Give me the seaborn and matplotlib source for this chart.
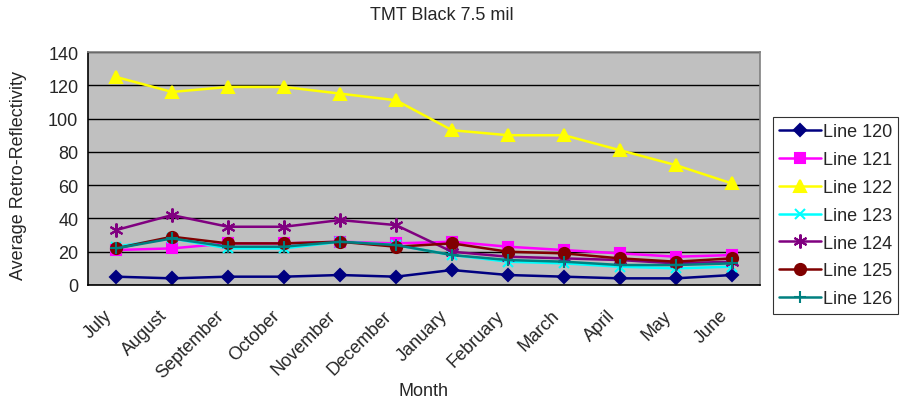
import matplotlib
matplotlib.use("Agg")
import matplotlib.pyplot as plt
from matplotlib.ticker import FixedLocator
import matplotlib.transforms as mtransforms
import pandas as pd
import seaborn as sns

months = ["July", "August", "September", "October", "November", "December",
          "January", "February", "March", "April", "May", "June"]

line_120 = [5, 4, 5, 5, 6, 5, 9, 6, 5, 4, 4, 6]
line_121 = [21, 22, 25, 25, 26, 25, 26, 23, 21, 19, 17, 18]
line_122 = [125, 116, 119, 119, 115, 111, 93, 90, 90, 81, 72, 61]
line_123 = [23, 28, 22, 22, 26, 24, 18, 14, 13, 11, 10, 11]
line_124 = [33, 42, 35, 35, 39, 36, 20, 17, 16, 15, 13, 14]
line_125 = [22, 29, 25, 25, 26, 23, 25, 20, 19, 16, 14, 16]
line_126 = [22, 28, 23, 23, 26, 24, 18, 15, 14, 12, 12, 13]

series = {
    "Line 120": line_120,
    "Line 121": line_121,
    "Line 122": line_122,
    "Line 123": line_123,
    "Line 124": line_124,
    "Line 125": line_125,
    "Line 126": line_126,
}

colors = {
    "Line 120": "#000080",
    "Line 121": "#FF00FF",
    "Line 122": "#FFFF00",
    "Line 123": "#00FFFF",
    "Line 124": "#800080",
    "Line 125": "#800000",
    "Line 126": "#008080",
}
markers = {
    "Line 120": "D",
    "Line 121": "s",
    "Line 122": "^",
    "Line 123": "x",
    "Line 124": (6, 2, 0),
    "Line 125": "o",
    "Line 126": "+",
}
msizes = {
    "Line 120": 6.5, "Line 121": 7.5, "Line 122": 8.5, "Line 123": 7.5,
    "Line 124": 10, "Line 125": 8, "Line 126": 9,
}

rows = []
for name, vals in series.items():
    for i, (m, v) in enumerate(zip(months, vals)):
        rows.append({"series": name, "pos": i, "month": m, "value": v})
df = pd.DataFrame(rows)

sns.set_style("white")
plt.rcParams["font.family"] = ["Liberation Sans", "DejaVu Sans"]
FS = 13

fig = plt.figure(figsize=(9, 4.02), dpi=100)
ax = fig.add_axes([88 / 900, 1 - 286 / 402, (760 - 88) / 900, (286 - 53) / 402])
ax.set_facecolor("#C0C0C0")

for name in series:
    sub = df[df["series"] == name]
    sns.lineplot(data=sub, x="pos", y="value", ax=ax, color=colors[name],
                 marker=markers[name], markersize=msizes[name],
                 markeredgecolor=colors[name], markerfacecolor=colors[name],
                 markeredgewidth=1.5, linewidth=1.8, label=name, legend=False)

ax.set_xlim(-0.5, len(months) - 0.5)
ax.set_ylim(0, 140)
ax.set_yticks(range(0, 141, 20))
ax.yaxis.grid(True, color="black", linewidth=1.0)
ax.set_axisbelow(True)

ax.set_xticks(range(len(months)))
ax.xaxis.set_minor_locator(FixedLocator([i - 0.5 for i in range(len(months) + 1)]))
ax.tick_params(axis="x", which="major", length=0, pad=12)
ax.tick_params(axis="x", which="minor", length=5, width=1, color="black", direction="out")
ax.tick_params(axis="y", length=5, width=1, color="black", direction="out", labelsize=FS, pad=2)
ax.set_xticklabels(months, rotation=45, ha="right", va="top", rotation_mode="anchor", fontsize=FS)

# nudge the slanted month labels left and down
shift = mtransforms.ScaledTranslation(-13 / 100, -5 / 100, fig.dpi_scale_trans)
for lbl in ax.get_xticklabels():
    lbl.set_transform(lbl.get_transform() + shift)

for side in ["left", "bottom"]:
    ax.spines[side].set_color("black")
    ax.spines[side].set_linewidth(1.2)
for side in ["top", "right"]:
    ax.spines[side].set_color("#808080")
    ax.spines[side].set_linewidth(1.2)

ax.set_xlabel("")
ax.set_ylabel("Average Retro-Reflectivity", fontsize=FS, labelpad=15)
ax.yaxis.label.set_y(0.476)
fig.text(424 / 900, 1 - 392 / 402, "Month", ha="center", va="center", fontsize=FS)
fig.text(442 / 900, 1 - 16 / 402, "TMT Black 7.5 mil", ha="center", va="center", fontsize=FS)

handles, labels = ax.get_legend_handles_labels()
leg = fig.legend(handles, labels, loc="upper left", bbox_to_anchor=(773 / 900, 1 - 118 / 402),
                 frameon=True, fancybox=False, edgecolor="black", fontsize=FS,
                 handlelength=2.3, handletextpad=0.1, labelspacing=0.6, borderpad=0.35,
                 borderaxespad=0)
leg.get_frame().set_linewidth(0.8)

fig.savefig("out.png", dpi=100)
